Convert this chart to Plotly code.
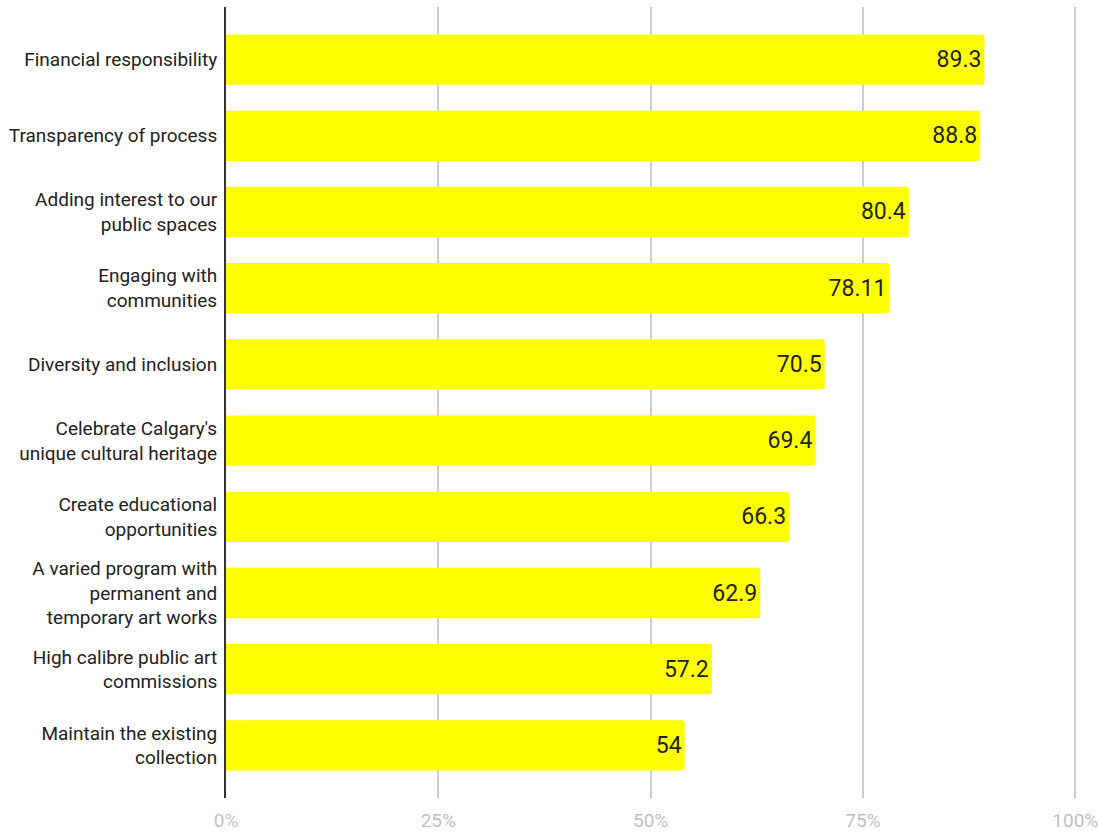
import plotly.graph_objects as go

categories = [
    "Financial responsibility",
    "Transparency of process",
    "Adding interest to our<br>public spaces",
    "Engaging with<br>communities",
    "Diversity and inclusion",
    "Celebrate Calgary's<br>unique cultural heritage",
    "Create educational<br>opportunities",
    "A varied program with<br>permanent and<br>temporary art works",
    "High calibre public art<br>commissions",
    "Maintain the existing<br>collection",
]
values = [89.3, 88.8, 80.4, 78.11, 70.5, 69.4, 66.3, 62.9, 57.2, 54]
tick_vals = [0, 25, 50, 75, 100]
tick_text = ["0%", "25%", "50%", "75%", "100%"]

fig = go.Figure(go.Bar(
    x=values,
    y=categories,
    orientation="h",
    marker=dict(color="#ffff00", line=dict(width=0), cornerradius=3),
    width=0.66,
    text=[str(v) for v in values],
    textposition="inside",
    insidetextanchor="end",
    textfont=dict(family="Roboto", size=23, color="#222222"),
    cliponaxis=False,
))

fig.update_layout(
    width=1100, height=833,
    margin=dict(l=226, r=23, t=7, b=35),
    plot_bgcolor="white", paper_bgcolor="white",
    font=dict(family="Roboto", color="#222222"),
    showlegend=False,
    uniformtext=dict(mode=False),
)
fig.update_xaxes(
    range=[0, 100.2], tickvals=tick_vals, ticktext=tick_text,
    showgrid=True, gridcolor="#cccccc", gridwidth=1.5,
    zeroline=False, showline=False, automargin=False,
    tickfont=dict(family="Roboto", size=19, color="#c0c0c0"),
    ticks="", ticklen=0, ticklabelstandoff=9,
)
fig.update_yaxes(
    categoryorder="array", categoryarray=categories,
    autorange=False, range=[9.69, -0.69], automargin=False,
    showgrid=False, zeroline=False,
    showline=True, linecolor="#333333", linewidth=2,
    tickfont=dict(family="Roboto", size=19, color="#222222"),
    ticks="", ticklabelstandoff=3,
)
fig.write_html(
    "out.html",
    config={"displayModeBar": False},
    post_script="document.body.style.margin='0';document.body.style.overflow='hidden';",
)
